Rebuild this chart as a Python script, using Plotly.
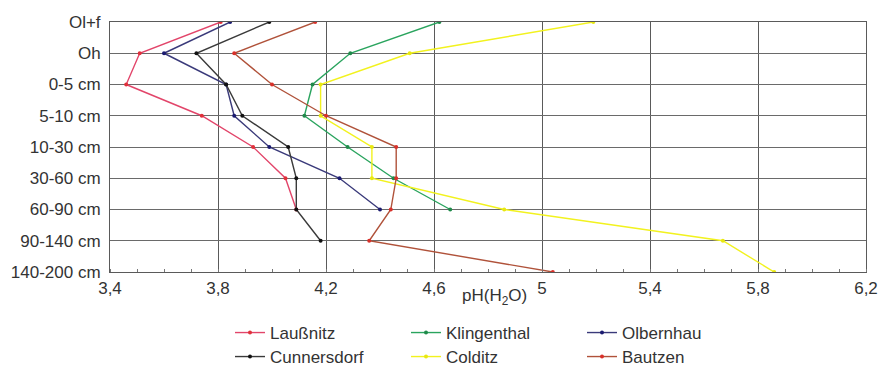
import plotly.graph_objects as go

# Soil horizons / depth layers, top to bottom
horizons = ["Ol+f", "Oh", "0-5 cm", "5-10 cm", "10-30 cm", "30-60 cm",
            "60-90 cm", "90-140 cm", "140-200 cm"]

# pH(H2O) per site and horizon
ph_laussnitz = [3.81, 3.51, 3.46, 3.74, 3.93, 4.05, 4.09]
ph_klingenthal = [4.62, 4.29, 4.15, 4.12, 4.28, 4.45, 4.66]
ph_olbernhau = [3.845, 3.60, 3.83, 3.86, 3.99, 4.25, 4.40]
ph_cunnersdorf = [3.99, 3.72, 3.83, 3.89, 4.06, 4.09, 4.09, 4.18]
ph_colditz = [5.19, 4.51, 4.18, 4.18, 4.37, 4.37, 4.86, 5.67, 5.86]
ph_bautzen = [4.16, 3.86, 4.00, 4.20, 4.46, 4.46, 4.44, 4.36, 5.04]

x_ticks = [3.4, 3.8, 4.2, 4.6, 5.0, 5.4, 5.8, 6.2]

series = [
    ("Laußnitz", ph_laussnitz, "#e2456a", "#e0303a", "legend"),
    ("Klingenthal", ph_klingenthal, "#2aa45e", "#1f8a4a", "legend"),
    ("Olbernhau", ph_olbernhau, "#3a3a7a", "#1a1a70", "legend"),
    ("Cunnersdorf", ph_cunnersdorf, "#3a3a3a", "#111111", "legend2"),
    ("Colditz", ph_colditz, "#f2f21e", "#e8e810", "legend2"),
    ("Bautzen", ph_bautzen, "#b0523a", "#d8302a", "legend2"),
]

fig = go.Figure()
for name, vals, lcol, mcol, leg in series:
    fig.add_trace(go.Scatter(
        x=vals, y=horizons[:len(vals)], name=name, mode="lines+markers",
        line=dict(color=lcol, width=1.4),
        marker=dict(color=mcol, size=4),
        legend=leg,
    ))

font = "Liberation Sans, Arial, sans-serif"
grid = "#5a5a5a"
fs = 17

legend_common = dict(
    orientation="h", xref="container", yref="container",
    xanchor="left", yanchor="middle", entrywidth=131, entrywidthmode="pixels",
    font=dict(family=font, size=fs, color="#333"), bgcolor="rgba(0,0,0,0)",
    itemwidth=30, tracegroupgap=0,
)

fig.update_layout(
    width=893, height=369,
    margin=dict(l=110, r=27, t=22, b=97),
    paper_bgcolor="white", plot_bgcolor="white",
    separators=", ",
    font=dict(family=font, size=fs, color="#333"),
    legend=dict(legend_common, x=230 / 893, y=1 - 333 / 369),
    legend2=dict(legend_common, x=230 / 893, y=1 - 357 / 369),
    xaxis=dict(
        range=[3.4, 6.2], tickvals=x_ticks,
        showgrid=True, gridcolor=grid, gridwidth=1,
        showline=True, linecolor=grid, linewidth=1, mirror=True,
        ticks="", zeroline=False, ticklabelstandoff=1,
        minor=dict(dtick=0.1, tick0=3.4, ticks="inside", ticklen=3,
                   tickcolor="#777", showgrid=False),
        tickfont=dict(size=fs, color="#333"),
    ),
    yaxis=dict(
        type="category", categoryorder="array", categoryarray=horizons,
        range=[8, 0],
        showgrid=True, gridcolor="#6a6a6a", gridwidth=1,
        showline=True, linecolor=grid, linewidth=1, mirror=True,
        ticks="", ticklabelstandoff=5,
        tickfont=dict(size=fs, color="#333"),
    ),
    annotations=[dict(
        text="pH(H<sub>2</sub>O)", xref="paper", yref="paper",
        x=(494 - 110) / 756, y=-25 / 250, xanchor="center", yanchor="middle",
        showarrow=False, font=dict(family=font, size=fs, color="#333"),
    )],
)

fig.write_html("out.html")
